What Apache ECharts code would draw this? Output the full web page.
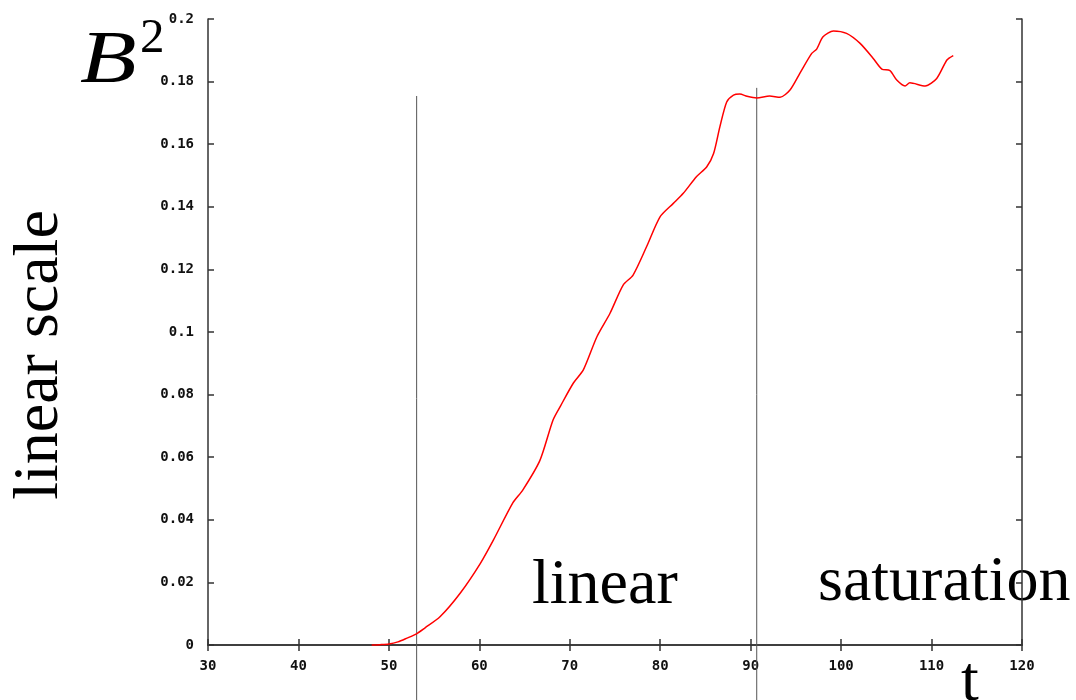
<!DOCTYPE html>
<html>
<head>
<meta charset="utf-8">
<script src="https://cdn.jsdelivr.net/npm/echarts@6/dist/echarts.min.js"></script>
<style>html,body{margin:0;padding:0;background:#fff}#c{width:1076px;height:700px}</style>
</head>
<body>
<div id="c"></div>
<script>
// time values (t) and B^2 values
const tValues = [48.1, 49.0, 50.0, 51.0, 52.0, 53.0, 54.0, 55.65, 57.9, 60.1, 61.55, 63.7, 64.8, 66.7, 68.15, 69.0, 70.4, 71.5, 73.0, 74.45, 75.9, 77.0, 78.5, 79.98, 81.45, 82.55, 84.0, 85.15, 85.9, 86.6, 87.35, 88.1, 88.8, 89.6, 90.67, 92.1, 93.25, 94.35, 95.45, 96.75, 97.3, 98.0, 99.15, 100.6, 102.1, 103.55, 104.5, 105.4, 106.15, 107.07, 107.6, 109.3, 110.57, 111.7, 112.4];
const b2Values = [0.0, 0.0001, 0.0003, 0.001, 0.0022, 0.0035, 0.0055, 0.009, 0.0166, 0.026, 0.0335, 0.0454, 0.0495, 0.059, 0.0719, 0.0765, 0.0837, 0.0879, 0.0985, 0.106, 0.115, 0.1182, 0.1273, 0.1368, 0.1411, 0.1443, 0.1496, 0.1528, 0.157, 0.1656, 0.1735, 0.1757, 0.176, 0.1753, 0.1748, 0.1754, 0.175, 0.1773, 0.1827, 0.189, 0.1904, 0.1943, 0.1962, 0.1954, 0.1922, 0.1874, 0.184, 0.1835, 0.1805, 0.1786, 0.1796, 0.1786, 0.181, 0.1869, 0.1883];
// phase separator lines: t position, top value, bottom value (below the axis)
const sepT = [53.07, 90.67];
const sepTop = [0.1754, 0.178];
const sepBottom = -0.02;
// axis ranges
const xMin = 30, xMax = 120, xStep = 10;
const yMin = 0, yMax = 0.2, yStep = 0.02;

const curve = tValues.map((t, i) => [t, b2Values[i]]);
const tickFont = { fontFamily: 'DejaVu Sans Mono', fontWeight: 'bold', fontSize: 14, color: '#111' };
const axisLineStyle = { color: '#333', width: 1.5 };

const sepSeries = sepT.map((t, i) => ({
  type: 'line', data: [[t, sepBottom], [t, sepTop[i]]], clip: false, symbol: 'none',
  lineStyle: { color: '#555', width: 1 }, silent: true, z: 1
}));

const serif = 'Liberation Serif';
const chart = echarts.init(document.getElementById('c'));
chart.setOption({
  animation: false,
  backgroundColor: '#fff',
  grid: { left: 208, right: 54, top: 19, bottom: 55 },
  xAxis: [
    { type: 'value', min: xMin, max: xMax, interval: xStep, position: 'bottom',
      axisLine: { show: true, lineStyle: axisLineStyle },
      axisTick: { show: true, inside: true, length: 6, lineStyle: axisLineStyle },
      axisLabel: Object.assign({ margin: 14 }, tickFont), splitLine: { show: false } },
    { type: 'value', min: xMin, max: xMax, interval: xStep, position: 'top',
      axisLine: { show: true, lineStyle: axisLineStyle },
      axisTick: { show: true, inside: true, length: 6, lineStyle: axisLineStyle },
      axisLabel: { show: false }, splitLine: { show: false } }
  ],
  yAxis: [
    { type: 'value', min: yMin, max: yMax, interval: yStep, position: 'left',
      axisLine: { show: true, lineStyle: axisLineStyle },
      axisTick: { show: true, inside: true, length: 6, lineStyle: axisLineStyle },
      axisLabel: Object.assign({ margin: 14 }, tickFont), splitLine: { show: false } },
    { type: 'value', min: yMin, max: yMax, interval: yStep, position: 'right',
      axisLine: { show: true, lineStyle: axisLineStyle },
      axisTick: { show: true, inside: true, length: 6, lineStyle: axisLineStyle },
      axisLabel: { show: false }, splitLine: { show: false } }
  ],
  series: [
    ...sepSeries,
    { type: 'line', data: curve, smooth: 0.25, symbol: 'none', clip: false,
      lineStyle: { color: '#ff0000', width: 1.5 }, z: 3 }
  ],
  graphic: [
    { type: 'text', x: 80, y: 26, scaleX: 1.25, style: {
        text: 'B', fontFamily: serif, fontStyle: 'italic', fontSize: 74, fill: '#000',
        align: 'left', verticalAlign: 'top' } },
    { type: 'text', x: 140, y: 15, style: {
        text: '2', fontFamily: serif, fontSize: 49, fill: '#000',
        align: 'left', verticalAlign: 'top' } },
    { type: 'text', x: 72, y: 355, rotation: Math.PI / 2, style: {
        text: 'linear scale', fontFamily: serif, fontSize: 64, fill: '#000',
        align: 'center', verticalAlign: 'bottom' } },
    { type: 'text', x: 532, y: 554, style: {
        text: 'linear', fontFamily: serif, fontSize: 64, fill: '#000',
        align: 'left', verticalAlign: 'top' } },
    { type: 'text', x: 818, y: 551, style: {
        text: 'saturation', fontFamily: serif, fontSize: 64, fill: '#000',
        align: 'left', verticalAlign: 'top' } },
    { type: 'text', x: 970, y: 651, style: {
        text: 't', fontFamily: serif, fontSize: 64, fill: '#000',
        align: 'center', verticalAlign: 'top' } }
  ]
});
</script>
</body>
</html>
